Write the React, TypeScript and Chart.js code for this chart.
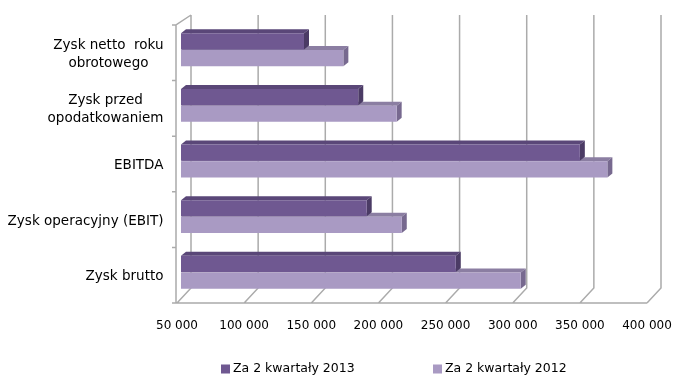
import React, { useEffect, useRef } from "react";
import { Chart, registerables } from "chart.js";

Chart.register(...registerables);

// ---- data ----
const categoryLines: string[][] = [
  ["Zysk netto  roku", "obrotowego"],
  ["Zysk przed", "opodatkowaniem"],
  ["EBITDA"],
  ["Zysk operacyjny (EBIT)"],
  ["Zysk brutto"],
];
const seriesNames = ["Za 2 kwartały 2013", "Za 2 kwartały 2012"];
const values2013 = [141600, 182000, 347000, 188300, 254600];
const values2012 = [170900, 210600, 367500, 214400, 303000];
const xMin = 50000;
const xMax = 400000;
const xStep = 50000;

// ---- styles ----
const frontColors = ["#6F5891", "#A99AC3"];
const topColors = ["#5A4778", "#8B7EA2"];
const sideColors = ["#4B3B65", "#77698F"];
const gridColor = "#ABABAB";
const WALL_DX = 14;
const WALL_DY = 15;
const WALL_TOP_DY = 10;
const BAR_SHIFT_X = 4;
const BAR_SHIFT_Y = 3;
const BAR_DX = 5;
const BAR_DY = 4;
const FONT = '"DejaVu Sans", Verdana, sans-serif';
const LEGEND_X = [221, 433];
const LEGEND_Y = 369;
const PLOT_LEFT = 177;
const PLOT_RIGHT = 647;

const fmt = (v: number) => String(v).replace(/\B(?=(\d{3})+(?!\d))/g, " ");

const threeD = {
  id: "threeD",
  beforeDatasetsDraw(chart: any) {
    const { ctx, chartArea: a, scales } = chart;
    const x = scales.x;
    ctx.save();
    ctx.strokeStyle = gridColor;
    ctx.lineWidth = 1.5;
    ctx.beginPath();
    const backTop = a.top - WALL_TOP_DY;
    const backBottom = a.bottom - WALL_DY;
    x.ticks.forEach((t: any) => {
      const px = x.getPixelForValue(t.value);
      ctx.moveTo(px + WALL_DX, backTop);
      ctx.lineTo(px + WALL_DX, backBottom);
      ctx.lineTo(px, a.bottom);
    });
    const x0 = x.getPixelForValue(xMin);
    ctx.moveTo(x0 - 1, a.bottom);
    ctx.lineTo(x.getPixelForValue(xMax), a.bottom);
    ctx.moveTo(x0 - 1, a.bottom);
    ctx.lineTo(x0 - 1, a.top);
    ctx.lineTo(x0 + WALL_DX, backTop);
    const n = categoryLines.length;
    for (let i = 0; i <= n; i++) {
      const yy = a.top + (i * (a.bottom - a.top)) / n;
      ctx.moveTo(x0 - 5, yy);
      ctx.lineTo(x0 - 1, yy);
    }
    ctx.stroke();
    ctx.restore();

    ctx.save();
    ctx.translate(BAR_SHIFT_X, -BAR_SHIFT_Y);
    for (let d = chart.data.datasets.length - 1; d >= 0; d--) {
      const meta = chart.getDatasetMeta(d);
      meta.data.forEach((el: any) => {
        const p = el.getProps(["x", "y", "base", "height"], true);
        const L = Math.max(Math.min(p.base, p.x), a.left);
        const R = Math.max(p.base, p.x);
        const T = p.y - p.height / 2;
        const B = p.y + p.height / 2;
        ctx.fillStyle = topColors[d];
        ctx.beginPath();
        ctx.moveTo(L, T);
        ctx.lineTo(R, T);
        ctx.lineTo(R + BAR_DX, T - BAR_DY);
        ctx.lineTo(L + BAR_DX, T - BAR_DY);
        ctx.closePath();
        ctx.fill();
        ctx.fillStyle = sideColors[d];
        ctx.beginPath();
        ctx.moveTo(R, T);
        ctx.lineTo(R + BAR_DX, T - BAR_DY);
        ctx.lineTo(R + BAR_DX, B - BAR_DY);
        ctx.lineTo(R, B);
        ctx.closePath();
        ctx.fill();
      });
    }
  },
  afterDatasetsDraw(chart: any) {
    chart.ctx.restore();
  },
  afterDraw(chart: any) {
    const { ctx, chartArea: a, scales } = chart;
    const y = scales.y;
    ctx.save();
    ctx.fillStyle = "#000";
    ctx.font = `13.5px ${FONT}`;
    ctx.textBaseline = "middle";
    ctx.textAlign = "center";
    const rightEdge = a.left - 13.5;
    const lh = 18;
    categoryLines.forEach((lines, i) => {
      const cy = y.getPixelForValue(i) + 1.5;
      const w = Math.max(...lines.map((l) => ctx.measureText(l).width));
      const cx = rightEdge - w / 2;
      lines.forEach((l, j) => {
        ctx.fillText(l, cx, cy + (j - (lines.length - 1) / 2) * lh);
      });
    });
    // legend
    ctx.font = `12.5px ${FONT}`;
    ctx.textAlign = "left";
    seriesNames.forEach((name, i) => {
      ctx.fillStyle = frontColors[i];
      ctx.fillRect(LEGEND_X[i], LEGEND_Y - 4.5, 9, 9);
      ctx.fillStyle = "#000";
      ctx.fillText(name, LEGEND_X[i] + 12, LEGEND_Y);
    });
    ctx.restore();
  },
};

export default function App() {
  const ref = useRef<HTMLCanvasElement | null>(null);
  useEffect(() => {
    if (!ref.current) return;
    const chart = new Chart(ref.current, {
      type: "bar",
      data: {
        labels: categoryLines.map((l) => l.join(" ")),
        datasets: [
          {
            label: seriesNames[0],
            data: values2013,
            backgroundColor: frontColors[0],
            categoryPercentage: 0.6,
            barPercentage: 0.97,
          },
          {
            label: seriesNames[1],
            data: values2012,
            backgroundColor: frontColors[1],
            categoryPercentage: 0.6,
            barPercentage: 0.97,
          },
        ],
      },
      options: {
        indexAxis: "y",
        responsive: false,
        animation: false,
        layout: { padding: { top: 25, right: 0, left: 0, bottom: 0 } },
        plugins: { legend: { display: false }, tooltip: { enabled: false } },
        scales: {
          x: {
            min: xMin,
            max: xMax,
            ticks: {
              stepSize: xStep,
              callback: (v: any) => fmt(Number(v)),
              font: { family: FONT, size: 12 },
              color: "#000",
              padding: 16,
              maxRotation: 0,
              autoSkip: false,
            },
            grid: { display: false, drawTicks: false },
            border: { display: false },
            afterFit: (s: any) => {
              s.height = 78;
              s.paddingLeft = 0;
              s.paddingRight = 0;
            },
          },
          y: {
            ticks: { display: false },
            grid: { display: false, drawTicks: false },
            border: { display: false },
            afterFit: (s: any) => {
              s.width = PLOT_LEFT;
            },
          },
        },
      },
      plugins: [
        threeD,
        {
          id: "fixArea",
          afterLayout(chart: any) {
            // keep the plot's right edge where the reference has it
            const a = chart.chartArea;
            if (a.right !== PLOT_RIGHT) {
              const x = chart.scales.x;
              a.right = PLOT_RIGHT;
              x.right = PLOT_RIGHT;
              x.width = PLOT_RIGHT - x.left;
              x.configure();
            }
          },
        },
      ],
    } as any);
    return () => chart.destroy();
  }, []);
  return (
    <div style={{ position: "absolute", left: 0, top: 0, width: 673, height: 381 }}>
      <canvas ref={ref} width={673} height={381} style={{ display: "block" }} />
    </div>
  );
}
